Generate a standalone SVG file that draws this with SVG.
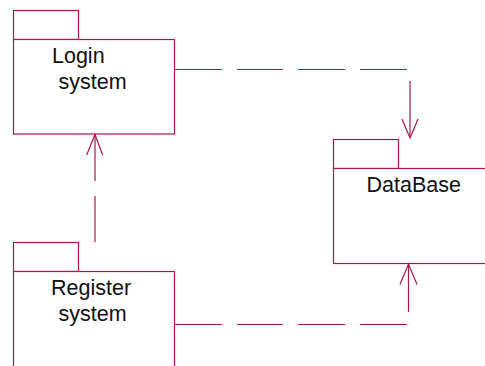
<svg xmlns="http://www.w3.org/2000/svg" width="485" height="366" viewBox="0 0 485 366">
<style>
.pkg{fill:#ffffff;stroke:#a8184c;stroke-width:1.2}
.lbl{font-family:"Liberation Sans",Arial,sans-serif;font-size:21.5px;fill:#111111}
.dep{fill:none;stroke:#a8184c;stroke-width:1.2}
</style>
<rect width="485" height="366" fill="#ffffff"/>
<g id="login">
<rect class="pkg" x="13.5" y="10.5" width="65" height="29"/>
<rect class="pkg" x="13.5" y="39.5" width="161" height="94.5"/>
<text class="lbl" x="52" y="63">Login</text>
<text class="lbl" x="58.5" y="89">system</text>
</g>
<g id="database">
<rect class="pkg" x="333.5" y="139.5" width="65" height="29"/>
<rect class="pkg" x="333.5" y="168.5" width="160" height="95"/>
<text class="lbl" x="366.5" y="191.5">DataBase</text>
</g>
<g id="register">
<rect class="pkg" x="13.5" y="242.5" width="65" height="29"/>
<rect class="pkg" x="13.5" y="271.5" width="161" height="110"/>
<text class="lbl" x="51" y="295">Register</text>
<text class="lbl" x="58.5" y="320.5">system</text>
</g>
<g id="connectors">
<path class="dep" d="M174.5 69.5H222M237 69.5H283M298 69.5H345M360 69.5H407M410 81V137"/>
<path class="dep" d="M402 119L410 138L418 119"/>
<path class="dep" d="M174.5 324.5H222M237 324.5H283M298 324.5H345M360 324.5H407M408.5 312V264.5"/>
<path class="dep" d="M400 284.5L408.5 264L417 284.5"/>
<path class="dep" d="M95 242V196M95 181V135"/>
<path class="dep" d="M86.7 155L95 134.5L102.7 155"/>
</g>
</svg>
